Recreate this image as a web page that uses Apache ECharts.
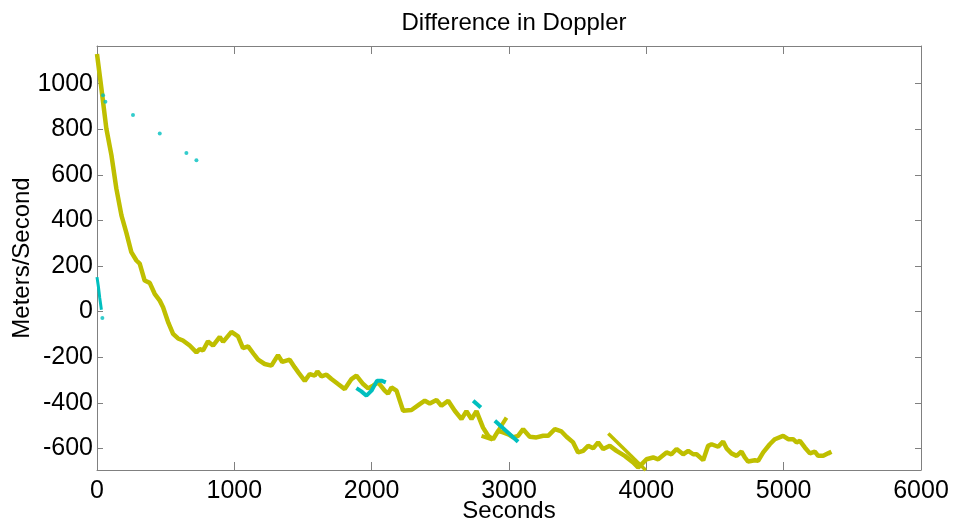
<!DOCTYPE html>
<html>
<head>
<meta charset="utf-8">
<script src="https://cdn.jsdelivr.net/npm/echarts@6/dist/echarts.min.js"></script>
<style>
  html, body { margin: 0; padding: 0; background: #fff; }
  #chart { width: 953px; height: 523px; }
</style>
</head>
<body>
<div id="chart"></div>
<script type="text/javascript">
// main doppler difference trace [seconds, m/s]
var mainTrace = [
  [0,1130],[3,1125],[32,979],[68,803],[105,686],[141,539],[178,422],[214,345],[250,261],[287,224],
  [311,210],[347,136],[384,126],[420,78],[457,48],[481,19],[520,-50],[554,-98],[590,-118],[626,-127],
  [675,-149],[724,-179],[748,-164],[772,-171],[808,-131],[845,-149],[894,-111],[918,-133],[979,-89],
  [1027,-109],[1063,-160],[1100,-153],[1140,-185],[1173,-211],[1221,-230],[1270,-237],[1318,-191],
  [1349,-221],[1403,-211],[1440,-245],[1470,-270],[1513,-304],[1549,-274],[1586,-281],[1605,-262],
  [1634,-284],[1671,-277],[1707,-296],[1755,-318],[1804,-340],[1853,-296],[1889,-281],[1938,-318],
  [1974,-337],[2010,-325],[2047,-311],[2095,-347],[2119,-360],[2144,-333],[2181,-347],[2229,-435],
  [2290,-432],[2350,-406],[2387,-391],[2423,-403],[2472,-388],[2508,-413],[2557,-391],[2605,-435],
  [2654,-472],[2690,-437],[2727,-472],[2763,-437],[2811,-509],[2848,-545],[2884,-560],[2921,-523],
  [2957,-530],[3000,-540],[3030,-552],[3066,-545],[3103,-516],[3151,-549],[3200,-552],[3249,-545],
  [3285,-545],[3334,-516],[3382,-526],[3419,-549],[3467,-574],[3503,-618],[3540,-611],[3576,-589],
  [3613,-600],[3649,-574],[3686,-603],[3734,-589],[3783,-611],[3843,-633],[3904,-662],[3940,-684],
  [3965,-670],[4001,-648],[4050,-640],[4086,-648],[4147,-618],[4183,-626],[4220,-603],[4268,-626],
  [4305,-611],[4341,-626],[4366,-626],[4414,-652],[4450,-589],[4475,-582],[4523,-593],[4559,-570],
  [4584,-600],[4620,-622],[4657,-633],[4693,-614],[4717,-640],[4741,-658],[4790,-652],[4814,-655],
  [4851,-618],[4899,-582],[4936,-560],[4996,-545],[5033,-560],[5069,-560],[5094,-574],[5118,-567],
  [5154,-596],[5191,-622],[5227,-614],[5251,-633],[5288,-633],[5324,-622],[5348,-615]
];
// short extra yellow pieces
var yellowPiece1 = [[2800,-545],[2880,-562]];
var yellowPiece2 = [[2921,-523],[2982,-465]];
var yellowPiece3 = [[3723,-535],[3996,-696]];
// cyan pieces
var cyanStart = [[0,151],[10,110],[20,60],[32,8]];
var cyanDots = [[39,-28],[44,949],[61,920],[262,862],[457,781],[651,696],[724,664]];
var cyanPiece1 = [[1889,-336],[1925,-350],[1962,-369],[1999,-347],[2039,-303],[2071,-303],[2103,-311]];
var cyanPiece2 = [[2739,-391],[2795,-421]];
var cyanPiece3 = [[2897,-479],[3066,-571]];

var xTicks = [0, 1000, 2000, 3000, 4000, 5000, 6000];
var yTicks = [-600, -400, -200, 0, 200, 400, 600, 800, 1000];

var YELLOW = '#bfbf00';
var CYAN = '#00bfbf';
var AXIS = '#808080';
var FONT = 'Liberation Sans, Arial, sans-serif';

var chart = echarts.init(document.getElementById('chart'));

function line(data, color, width) {
    return {
        type: 'line',
        data: data,
        showSymbol: false,
        animation: false,
        lineStyle: {color: color, width: width},
        z: 3
    };
}
function plain(v) { return String(v); }

var option = {
    backgroundColor: '#fff',
    animation: false,
    title: {
        text: 'Difference in Doppler',
        left: 509,
        top: 6,
        textAlign: 'center',
        textStyle: {fontFamily: FONT, fontSize: 24, fontWeight: 'normal', color: '#000'}
    },
    grid: {left: 97, right: 32, top: 46, bottom: 53, containLabel: false, outerBoundsMode: 'none'},
    xAxis: [
        {
            type: 'value', position: 'bottom', min: 0, max: 6000,
            name: 'Seconds', nameLocation: 'middle', nameGap: 29, nameMoveOverlap: false,
            nameTextStyle: {fontFamily: FONT, fontSize: 24, color: '#000'},
            axisLine: {show: true, onZero: false, lineStyle: {color: AXIS, width: 1}},
            axisTick: {show: true, inside: true, length: 8, customValues: xTicks, lineStyle: {color: AXIS}},
            axisLabel: {fontFamily: FONT, fontSize: 25, color: '#000', margin: 9, customValues: xTicks, formatter: plain},
            splitLine: {show: false}
        },
        {
            type: 'value', position: 'top', min: 0, max: 6000,
            axisLine: {show: true, onZero: false, lineStyle: {color: AXIS, width: 1}},
            axisTick: {show: true, inside: true, length: 8, customValues: xTicks, lineStyle: {color: AXIS}},
            axisLabel: {show: false},
            splitLine: {show: false}
        }
    ],
    yAxis: [
        {
            type: 'value', position: 'left', min: -695, max: 1165,
            name: 'Meters/Second', nameLocation: 'middle', nameGap: 63, nameMoveOverlap: false,
            nameTextStyle: {fontFamily: FONT, fontSize: 24, color: '#000'},
            axisLine: {show: true, onZero: false, lineStyle: {color: AXIS, width: 1}},
            axisTick: {show: true, inside: true, length: 6, customValues: yTicks, lineStyle: {color: AXIS}},
            axisLabel: {fontFamily: FONT, fontSize: 25, color: '#000', margin: 4, customValues: yTicks, formatter: plain},
            splitLine: {show: false}
        },
        {
            type: 'value', position: 'right', min: -695, max: 1165,
            axisLine: {show: true, onZero: false, lineStyle: {color: AXIS, width: 1}},
            axisTick: {show: true, inside: true, length: 6, customValues: yTicks, lineStyle: {color: AXIS}},
            axisLabel: {show: false},
            splitLine: {show: false}
        }
    ],
    series: [
        line(cyanStart, CYAN, 3),
        line(mainTrace, YELLOW, 4.5),
        line(yellowPiece1, YELLOW, 4),
        line(yellowPiece2, YELLOW, 4),
        line(yellowPiece3, YELLOW, 3.5),
        line(cyanPiece1, CYAN, 4),
        line(cyanPiece2, CYAN, 4),
        line(cyanPiece3, CYAN, 4),
        {
            type: 'scatter',
            data: cyanDots,
            symbol: 'circle',
            symbolSize: 4,
            itemStyle: {color: CYAN},
            z: 4
        }
    ]
};
chart.setOption(option);
</script>
</body>
</html>
